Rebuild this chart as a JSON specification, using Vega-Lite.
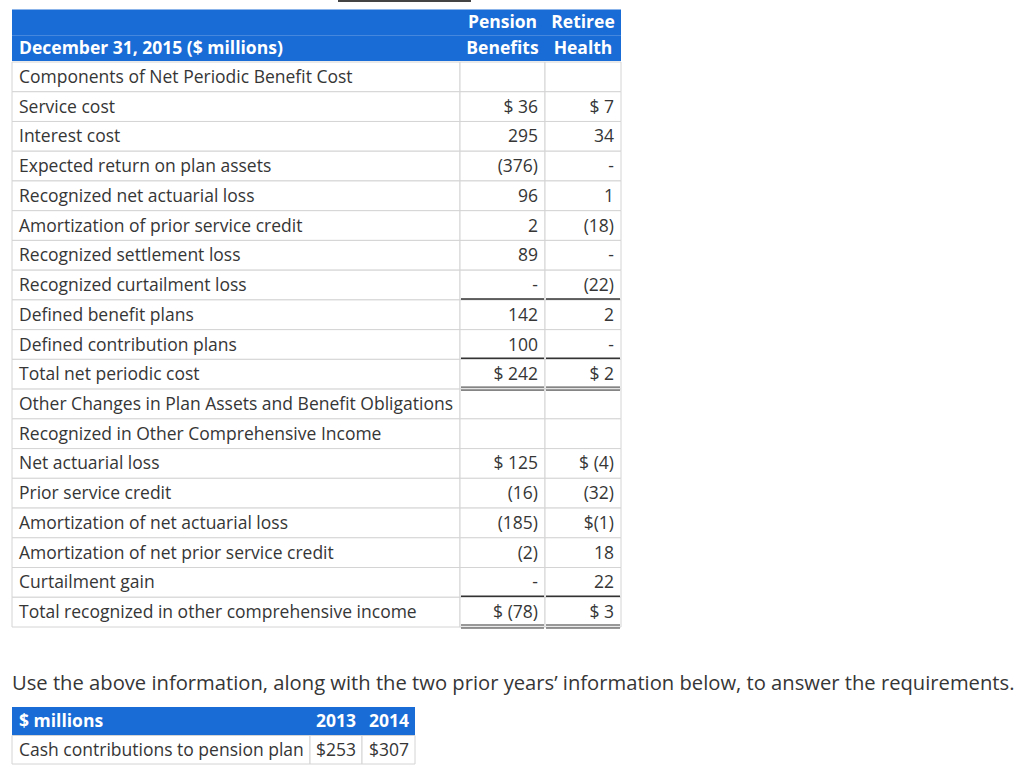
{
  "$schema": "https://vega.github.io/schema/vega-lite/v6.json",
  "width": 1024,
  "height": 769,
  "autosize": "none",
  "padding": 0,
  "background": "white",
  "config": {"view": {"stroke": null}, "text": {"font": "Open Sans", "fontSize": 17.5, "color": "#363636", "dy": 1}},
  "resolve": {"scale": {"y": "independent"}},
  "layer": [
    {
      "data": {"values": [{"part": "bar"}]},
      "encoding": {
        "y": {"datum": 0, "type": "quantitative", "scale": {"domain": [0, 1], "range": [0, 2]}, "axis": null},
        "y2": {"datum": 1}
      },
      "layer": [
        {"mark": {"type": "rect", "color": "#444444"},
         "encoding": {"x": {"datum": 338, "type": "quantitative", "scale": {"domain": [0, 1024]}, "axis": null}, "x2": {"datum": 471}}}
      ]
    },
    {
      "data": {"values": [
        {"line": 1, "a": "", "b": "Pension", "c": "Retiree"},
        {"line": 2, "a": "December 31, 2015 ($ millions)", "b": "Benefits", "c": "Health"}
      ]},
      "encoding": {"y": {"field": "line", "type": "ordinal", "scale": {"range": [9.5, 61], "paddingInner": 0, "paddingOuter": 0}, "axis": null}},
      "layer": [
        {"mark": {"type": "rect", "color": "#196bd5", "dy": 0},
         "encoding": {"x": {"datum": 12, "type": "quantitative", "scale": {"domain": [0, 1024]}, "axis": null}, "x2": {"datum": 621}, "y": {"field": "line", "type": "ordinal", "bandPosition": 0}}},
        {"mark": {"type": "text", "align": "left", "baseline": "middle", "fontWeight": "bold", "color": "white", "fontSize": 17.5},
         "encoding": {"x": {"datum": 19, "type": "quantitative", "scale": {"domain": [0, 1024]}, "axis": null}, "text": {"field": "a"}}},
        {"mark": {"type": "text", "align": "center", "baseline": "middle", "fontWeight": "bold", "color": "white", "fontSize": 17.5},
         "encoding": {"x": {"datum": 502.5, "type": "quantitative", "scale": {"domain": [0, 1024]}, "axis": null}, "text": {"field": "b"}}},
        {"mark": {"type": "text", "align": "center", "baseline": "middle", "fontWeight": "bold", "color": "white", "fontSize": 17.5},
         "encoding": {"x": {"datum": 583, "type": "quantitative", "scale": {"domain": [0, 1024]}, "axis": null}, "text": {"field": "c"}}}
      ]
    },
    {
      "data": {"values": [
        {"i": 1, "label": "Components of Net Periodic Benefit Cost", "p": "", "r": ""},
        {"i": 2, "label": "Service cost", "p": "$ 36", "r": "$ 7"},
        {"i": 3, "label": "Interest cost", "p": "295", "r": "34"},
        {"i": 4, "label": "Expected return on plan assets", "p": "(376)", "r": "-"},
        {"i": 5, "label": "Recognized net actuarial loss", "p": "96", "r": "1"},
        {"i": 6, "label": "Amortization of prior service credit", "p": "2", "r": "(18)"},
        {"i": 7, "label": "Recognized settlement loss", "p": "89", "r": "-"},
        {"i": 8, "label": "Recognized curtailment loss", "p": "-", "r": "(22)"},
        {"i": 9, "label": "Defined benefit plans", "p": "142", "r": "2"},
        {"i": 10, "label": "Defined contribution plans", "p": "100", "r": "-"},
        {"i": 11, "label": "Total net periodic cost", "p": "$ 242", "r": "$ 2"},
        {"i": 12, "label": "Other Changes in Plan Assets and Benefit Obligations", "p": "", "r": ""},
        {"i": 13, "label": "Recognized in Other Comprehensive Income", "p": "", "r": ""},
        {"i": 14, "label": "Net actuarial loss", "p": "$ 125", "r": "$ (4)"},
        {"i": 15, "label": "Prior service credit", "p": "(16)", "r": "(32)"},
        {"i": 16, "label": "Amortization of net actuarial loss", "p": "(185)", "r": "$(1)"},
        {"i": 17, "label": "Amortization of net prior service credit", "p": "(2)", "r": "18"},
        {"i": 18, "label": "Curtailment gain", "p": "-", "r": "22"},
        {"i": 19, "label": "Total recognized in other comprehensive income", "p": "$ (78)", "r": "$ 3"}
      ]},
      "encoding": {"y": {"field": "i", "type": "ordinal", "scale": {"range": [62, 627], "paddingInner": 0, "paddingOuter": 0}, "axis": null}},
      "layer": [
        {"mark": {"type": "rect", "fill": "white", "stroke": "#d4d4d4", "strokeWidth": 1},
         "encoding": {"x": {"datum": 12, "type": "quantitative", "scale": {"domain": [0, 1024]}, "axis": null}, "x2": {"datum": 460}}},
        {"mark": {"type": "rect", "fill": "white", "stroke": "#d4d4d4", "strokeWidth": 1},
         "encoding": {"x": {"datum": 460, "type": "quantitative", "scale": {"domain": [0, 1024]}, "axis": null}, "x2": {"datum": 545}}},
        {"mark": {"type": "rect", "fill": "white", "stroke": "#d4d4d4", "strokeWidth": 1},
         "encoding": {"x": {"datum": 545, "type": "quantitative", "scale": {"domain": [0, 1024]}, "axis": null}, "x2": {"datum": 621}}},
        {"mark": {"type": "text", "align": "left", "baseline": "middle"},
         "encoding": {"x": {"datum": 19, "type": "quantitative", "scale": {"domain": [0, 1024]}, "axis": null}, "text": {"field": "label"}}},
        {"mark": {"type": "text", "align": "right", "baseline": "middle"},
         "encoding": {"x": {"datum": 538, "type": "quantitative", "scale": {"domain": [0, 1024]}, "axis": null}, "text": {"field": "p"}}},
        {"mark": {"type": "text", "align": "right", "baseline": "middle"},
         "encoding": {"x": {"datum": 614, "type": "quantitative", "scale": {"domain": [0, 1024]}, "axis": null}, "text": {"field": "r"}}},
        {"transform": [{"filter": "datum.i == 9 || datum.i == 11 || datum.i == 19"}],
         "layer": [
           {"mark": {"type": "rule", "color": "#333333", "strokeWidth": 1.5, "yOffset": -1},
            "encoding": {"y": {"field": "i", "type": "ordinal", "bandPosition": 0}, "x": {"datum": 461, "type": "quantitative", "scale": {"domain": [0, 1024]}, "axis": null}, "x2": {"datum": 544}}},
           {"mark": {"type": "rule", "color": "#333333", "strokeWidth": 1.5, "yOffset": -1},
            "encoding": {"y": {"field": "i", "type": "ordinal", "bandPosition": 0}, "x": {"datum": 546, "type": "quantitative", "scale": {"domain": [0, 1024]}, "axis": null}, "x2": {"datum": 620}}}
         ]},
        {"transform": [{"filter": "datum.i == 11 || datum.i == 19"}],
         "layer": [
           {"mark": {"type": "rule", "color": "#333333", "strokeWidth": 1, "yOffset": -2},
            "encoding": {"y": {"field": "i", "type": "ordinal", "bandPosition": 1}, "x": {"datum": 461, "type": "quantitative", "scale": {"domain": [0, 1024]}, "axis": null}, "x2": {"datum": 544}}},
           {"mark": {"type": "rule", "color": "#333333", "strokeWidth": 1, "yOffset": -2},
            "encoding": {"y": {"field": "i", "type": "ordinal", "bandPosition": 1}, "x": {"datum": 546, "type": "quantitative", "scale": {"domain": [0, 1024]}, "axis": null}, "x2": {"datum": 620}}},
           {"mark": {"type": "rule", "color": "#333333", "strokeWidth": 1, "yOffset": 1},
            "encoding": {"y": {"field": "i", "type": "ordinal", "bandPosition": 1}, "x": {"datum": 461, "type": "quantitative", "scale": {"domain": [0, 1024]}, "axis": null}, "x2": {"datum": 544}}},
           {"mark": {"type": "rule", "color": "#333333", "strokeWidth": 1, "yOffset": 1},
            "encoding": {"y": {"field": "i", "type": "ordinal", "bandPosition": 1}, "x": {"datum": 546, "type": "quantitative", "scale": {"domain": [0, 1024]}, "axis": null}, "x2": {"datum": 620}}}
         ]}
      ]
    },
    {
      "data": {"values": [{"s": "Use the above information, along with the two prior years’ information below, to answer the requirements."}]},
      "encoding": {"y": {"field": "s", "type": "nominal", "scale": {"range": [670, 696], "paddingInner": 0, "paddingOuter": 0}, "axis": null}},
      "layer": [
        {"mark": {"type": "text", "align": "left", "baseline": "middle", "fontSize": 20.2},
         "encoding": {"x": {"datum": 12, "type": "quantitative", "scale": {"domain": [0, 1024]}, "axis": null}, "text": {"field": "s"}}}
      ]
    },
    {
      "data": {"values": [
        {"k": "h", "label": "$ millions", "y2013": "2013", "y2014": "2014"},
        {"k": "b", "label": "Cash contributions to pension plan", "y2013": "$253", "y2014": "$307"}
      ]},
      "encoding": {"y": {"field": "k", "type": "nominal", "sort": ["h", "b"], "scale": {"range": [707, 764], "paddingInner": 0, "paddingOuter": 0}, "axis": null}},
      "layer": [
        {"transform": [{"filter": "datum.k == 'h'"}],
         "layer": [
           {"mark": {"type": "rect", "color": "#196bd5"},
            "encoding": {"x": {"datum": 12, "type": "quantitative", "scale": {"domain": [0, 1024]}, "axis": null}, "x2": {"datum": 415}}},
           {"mark": {"type": "text", "align": "left", "baseline": "middle", "fontWeight": "bold", "color": "white", "fontSize": 17.5},
            "encoding": {"x": {"datum": 19, "type": "quantitative", "scale": {"domain": [0, 1024]}, "axis": null}, "text": {"field": "label"}}},
           {"mark": {"type": "text", "align": "right", "baseline": "middle", "fontWeight": "bold", "color": "white", "fontSize": 17.5},
            "encoding": {"x": {"datum": 356, "type": "quantitative", "scale": {"domain": [0, 1024]}, "axis": null}, "text": {"field": "y2013"}}},
           {"mark": {"type": "text", "align": "right", "baseline": "middle", "fontWeight": "bold", "color": "white", "fontSize": 17.5},
            "encoding": {"x": {"datum": 409, "type": "quantitative", "scale": {"domain": [0, 1024]}, "axis": null}, "text": {"field": "y2014"}}}
         ]},
        {"transform": [{"filter": "datum.k == 'b'"}],
         "layer": [
           {"mark": {"type": "rect", "fill": "white", "stroke": "#d4d4d4", "strokeWidth": 1},
            "encoding": {"x": {"datum": 12, "type": "quantitative", "scale": {"domain": [0, 1024]}, "axis": null}, "x2": {"datum": 310}}},
           {"mark": {"type": "rect", "fill": "white", "stroke": "#d4d4d4", "strokeWidth": 1},
            "encoding": {"x": {"datum": 310, "type": "quantitative", "scale": {"domain": [0, 1024]}, "axis": null}, "x2": {"datum": 362}}},
           {"mark": {"type": "rect", "fill": "white", "stroke": "#d4d4d4", "strokeWidth": 1},
            "encoding": {"x": {"datum": 362, "type": "quantitative", "scale": {"domain": [0, 1024]}, "axis": null}, "x2": {"datum": 415}}},
           {"mark": {"type": "text", "align": "left", "baseline": "middle"},
            "encoding": {"x": {"datum": 19, "type": "quantitative", "scale": {"domain": [0, 1024]}, "axis": null}, "text": {"field": "label"}}},
           {"mark": {"type": "text", "align": "right", "baseline": "middle"},
            "encoding": {"x": {"datum": 356, "type": "quantitative", "scale": {"domain": [0, 1024]}, "axis": null}, "text": {"field": "y2013"}}},
           {"mark": {"type": "text", "align": "right", "baseline": "middle"},
            "encoding": {"x": {"datum": 409, "type": "quantitative", "scale": {"domain": [0, 1024]}, "axis": null}, "text": {"field": "y2014"}}}
         ]}
      ]
    }
  ]
}
